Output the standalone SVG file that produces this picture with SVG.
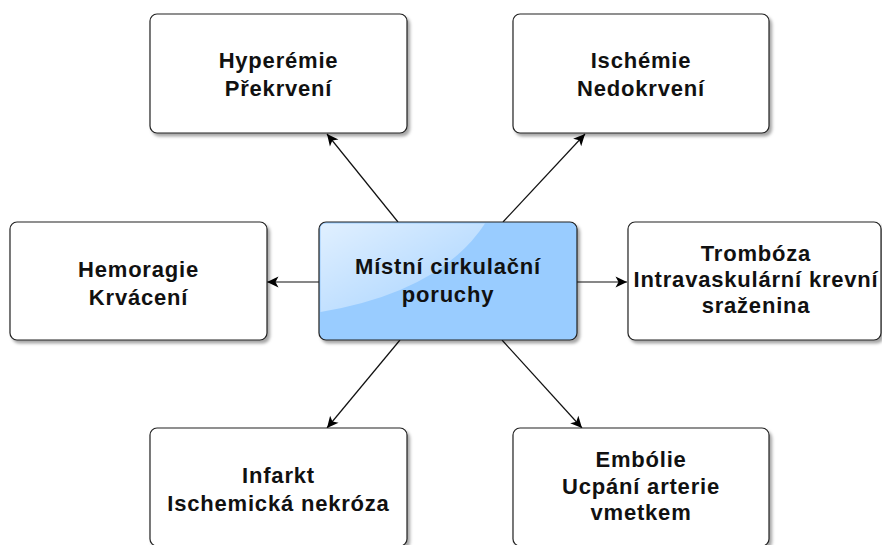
<svg xmlns="http://www.w3.org/2000/svg" width="882" height="545" viewBox="0 0 882 545">
  <defs>
    <filter id="shadow" x="-10%" y="-10%" width="125%" height="130%">
      <feDropShadow dx="2.5" dy="3" stdDeviation="1.6" flood-color="#000" flood-opacity="0.35"/>
    </filter>
    <linearGradient id="glass" x1="0" y1="0" x2="1" y2="1">
      <stop offset="0" stop-color="#fff" stop-opacity="0.7"/>
      <stop offset="1" stop-color="#fff" stop-opacity="0.12"/>
    </linearGradient>
    <marker id="arrow" markerUnits="userSpaceOnUse" markerWidth="14" markerHeight="14" viewBox="-12 -7 13 14" refX="0" refY="0" orient="auto">
      <path d="M0,0 L-11.5,-5.5 L-8.5,0 L-11.5,5.5 Z" fill="#000"/>
    </marker>
  </defs>
  <style>
    .box { fill: #ffffff; stroke: #222; stroke-width: 1.2; filter: url(#shadow); }
    .main { fill: #99ccff; stroke: #222; stroke-width: 1.2; filter: url(#shadow); }
    .lbl { font-family: "Liberation Sans", Arial, sans-serif; font-weight: bold; font-size: 22px; letter-spacing: 0.8px; fill: #111; text-anchor: middle; }
    .edge { stroke: #111; stroke-width: 1.2; fill: none; marker-end: url(#arrow); }
  </style>

  <rect width="882" height="545" fill="#fff"/>

  <!-- connectors -->
  <g id="connectors">
    <line class="edge" x1="398" y1="222" x2="327" y2="134"/>
    <line class="edge" x1="503" y1="222" x2="585" y2="134"/>
    <line class="edge" x1="319" y1="282" x2="267" y2="282"/>
    <line class="edge" x1="577" y1="282" x2="627" y2="282"/>
    <line class="edge" x1="400" y1="340" x2="327" y2="428"/>
    <line class="edge" x1="502" y1="340" x2="582" y2="428"/>
  </g>

  <!-- central node -->
  <g id="node-center">
    <rect class="main" x="319" y="222" width="258" height="118" rx="7"/>
    <path d="M320.5,312 Q440,292 485,223.5 L326,223.5 Q320.5,223.5 320.5,229 Z" fill="url(#glass)"/>
    <text class="lbl" x="448" y="274">Místní cirkulační</text>
    <text class="lbl" x="448" y="302">poruchy</text>
  </g>

  <g id="node-hyperemie">
    <rect class="box" x="150" y="14" width="257" height="119" rx="7"/>
    <text class="lbl" x="278.5" y="68">Hyperémie</text>
    <text class="lbl" x="278.5" y="96">Překrvení</text>
  </g>

  <g id="node-ischemie">
    <rect class="box" x="513" y="14" width="256" height="119" rx="7"/>
    <text class="lbl" x="641" y="68">Ischémie</text>
    <text class="lbl" x="641" y="96">Nedokrvení</text>
  </g>

  <g id="node-hemoragie">
    <rect class="box" x="10" y="222" width="257" height="118" rx="7"/>
    <text class="lbl" x="138.5" y="277">Hemoragie</text>
    <text class="lbl" x="138.5" y="305">Krvácení</text>
  </g>

  <g id="node-tromboza">
    <rect class="box" x="628" y="222" width="253" height="118" rx="7"/>
    <text class="lbl" x="756" y="261">Trombóza</text>
    <text class="lbl" x="756" y="287">Intravaskulární krevní</text>
    <text class="lbl" x="756" y="313">sraženina</text>
  </g>

  <g id="node-infarkt">
    <rect class="box" x="150" y="428" width="257" height="118" rx="7"/>
    <text class="lbl" x="278.5" y="483">Infarkt</text>
    <text class="lbl" x="278.5" y="511">Ischemická nekróza</text>
  </g>

  <g id="node-embolie">
    <rect class="box" x="513" y="428" width="256" height="118" rx="7"/>
    <text class="lbl" x="641" y="467">Embólie</text>
    <text class="lbl" x="641" y="494">Ucpání arterie</text>
    <text class="lbl" x="641" y="520">vmetkem</text>
  </g>
</svg>
